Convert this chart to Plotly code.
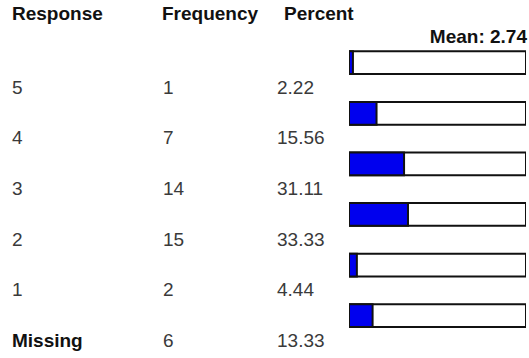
import plotly.graph_objects as go

responses = ["5", "4", "3", "2", "1", "Missing"]
frequency = [1, 7, 14, 15, 2, 6]
percent = [2.22, 15.56, 31.11, 33.33, 4.44, 13.33]
headers = ["Response", "Frequency", "Percent"]
mean_label = "Mean: 2.74"

W, H = 529, 358
row0_px, row_step = 89.0, 50.6
y_top = (0 - row0_px) / row_step
y_bot = (H - row0_px) / row_step

rows = list(range(len(responses)))
bar_y = [i - 0.52 for i in rows]

font_txt = "Liberation Sans, Arial, sans-serif"
fig = go.Figure()

# outline boxes (100%)
fig.add_trace(go.Bar(
    x=[100] * len(rows), y=bar_y, orientation="h", base=0,
    marker=dict(color="white", line=dict(color="#111", width=2)),
    width=0.45, xaxis="x", yaxis="y", showlegend=False, hoverinfo="skip",
))
# blue fill
fig.add_trace(go.Bar(
    x=percent, y=bar_y, orientation="h", base=0,
    marker=dict(color="#0000ee", line=dict(color="#111", width=2)),
    width=0.45, xaxis="x", yaxis="y", showlegend=False, hoverinfo="skip",
))

# column text
col_x = [12, 163, 277]
fig.add_trace(go.Scatter(
    x=[col_x[0]] * len(rows), y=rows, mode="text",
    text=[f"<b>{r}</b>" if r == "Missing" else r for r in responses],
    textposition="middle right",
    textfont=dict(family=font_txt, size=19, color=["#3a3a3a"] * 5 + ["#111"]),
    xaxis="x2", yaxis="y", showlegend=False, hoverinfo="skip",
))
fig.add_trace(go.Scatter(
    x=[col_x[1]] * len(rows), y=rows, mode="text",
    text=[str(f) for f in frequency], textposition="middle right",
    textfont=dict(family=font_txt, size=19, color="#3a3a3a"),
    xaxis="x2", yaxis="y", showlegend=False, hoverinfo="skip",
))
fig.add_trace(go.Scatter(
    x=[col_x[2]] * len(rows), y=rows, mode="text",
    text=[f"{p:.2f}" for p in percent], textposition="middle right",
    textfont=dict(family=font_txt, size=19, color="#3a3a3a"),
    xaxis="x2", yaxis="y", showlegend=False, hoverinfo="skip",
))
# headers
fig.add_trace(go.Scatter(
    x=[12, 162, 284], y=[(15 - row0_px) / row_step] * 3, mode="text",
    text=[f"<b>{h}</b>" for h in headers], textposition="middle right",
    textfont=dict(family=font_txt, size=19, color="#111"),
    xaxis="x2", yaxis="y", showlegend=False, hoverinfo="skip",
))
fig.add_trace(go.Scatter(
    x=[527], y=[(38 - row0_px) / row_step], mode="text",
    text=[f"<b>{mean_label}</b>"], textposition="middle left",
    textfont=dict(family=font_txt, size=19, color="#111"),
    xaxis="x2", yaxis="y", showlegend=False, hoverinfo="skip",
))

fig.update_layout(
    width=W, height=H,
    margin=dict(l=0, r=0, t=0, b=0),
    paper_bgcolor="white", plot_bgcolor="rgba(0,0,0,0)",
    barmode="overlay",
    xaxis=dict(domain=[349 / W, 526 / W], range=[0, 100], visible=False, fixedrange=True),
    xaxis2=dict(domain=[0, 1], range=[0, W], visible=False, anchor="y", fixedrange=True),
    yaxis=dict(range=[y_bot, y_top], visible=False, fixedrange=True),
    showlegend=False,
)

fig.write_html("out.html", config={"displayModeBar": False},
               post_script="document.body.style.margin='0';document.body.style.overflow='hidden';")
